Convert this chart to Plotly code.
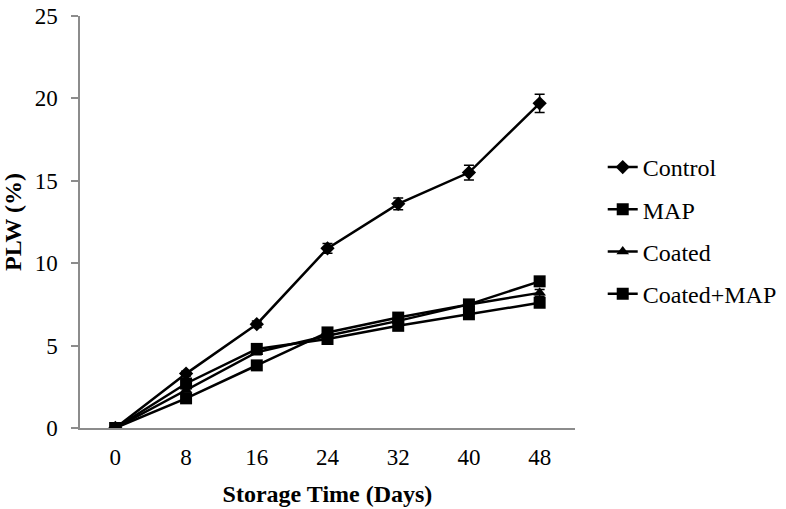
import plotly.graph_objects as go

days = [0, 8, 16, 24, 32, 40, 48]
control = [0, 3.3, 6.3, 10.9, 13.6, 15.5, 19.7]
control_err = [0, 0.15, 0.2, 0.3, 0.35, 0.45, 0.55]
map_vals = [0, 1.8, 3.8, 5.8, 6.7, 7.5, 8.9]
map_err = [0, 0.1, 0.15, 0.15, 0.15, 0.2, 0.2]
coated = [0, 2.3, 4.6, 5.6, 6.5, 7.5, 8.2]
coated_err = [0, 0.1, 0.15, 0.15, 0.15, 0.2, 0.2]
coated_map = [0, 2.7, 4.8, 5.4, 6.2, 6.9, 7.6]
coated_map_err = [0, 0.1, 0.15, 0.15, 0.15, 0.2, 0.2]

series = [
    ("Control", control, control_err, "diamond", 11),
    ("MAP", map_vals, map_err, "square", 12),
    ("Coated", coated, coated_err, "triangle-up", 11),
    ("Coated+MAP", coated_map, coated_map_err, "square", 12),
]

FONT = "Liberation Serif"

fig = go.Figure()
for i, (name, vals, err, sym, sz) in enumerate(series):
    fig.add_trace(go.Scatter(
        x=days, y=vals, name=name, mode="lines+markers",
        line=dict(color="black", width=2.5),
        marker=dict(symbol=sym, size=sz, color="black"),
        error_y=dict(type="data", array=err, color="black", thickness=1.5, width=5),
        legendgroup=f"g{i}",
    ))

fig.update_layout(
    width=786, height=509,
    margin=dict(l=80, r=211, t=16, b=81, autoexpand=False),
    plot_bgcolor="white", paper_bgcolor="white",
    font=dict(family=FONT, size=24, color="black"),
    showlegend=True,
    legend=dict(
        x=1.056, xanchor="left", y=0.687, yanchor="top",
        font=dict(family=FONT, size=24, color="black"),
        tracegroupgap=8, itemwidth=30,
        bgcolor="rgba(0,0,0,0)",
    ),
    xaxis=dict(
        range=[-4, 52], tickvals=days, ticktext=[str(d) for d in days],
        showgrid=False, zeroline=False, showline=True, automargin=False,
        linecolor="#8c8c8c", linewidth=1.5, ticks="",
        tickfont=dict(family=FONT, size=23),
        ticklabelstandoff=8,
        title=dict(text="<b>Storage Time (Days)</b>", font=dict(family=FONT, size=24), standoff=16),
    ),
    yaxis=dict(
        range=[0, 25], tickvals=[0, 5, 10, 15, 20, 25],
        showgrid=False, zeroline=False, showline=True, automargin=False,
        linecolor="#8c8c8c", linewidth=1.5, ticks="outside", ticklen=7,
        tickcolor="#8c8c8c", tickwidth=1.5,
        tickfont=dict(family=FONT, size=23),
        ticklabelstandoff=9,
        title=dict(text="<b>PLW (%)</b>", font=dict(family=FONT, size=24), standoff=10),
    ),
)

fig.write_html("out.html", config={"displayModeBar": False},
               post_script="document.body.style.margin='0';")
